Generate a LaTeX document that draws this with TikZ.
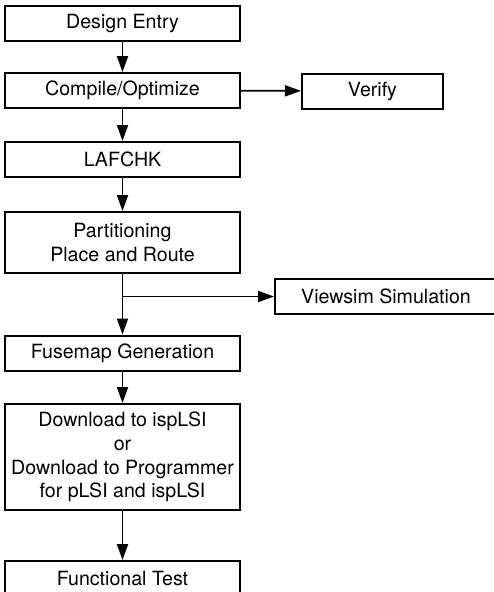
\documentclass[tikz,border=0pt]{standalone}
\usepackage{fontspec}
\setmainfont{TeX Gyre Heros}
\usetikzlibrary{arrows.meta}
\begin{document}
\begin{tikzpicture}[x=1pt,y=-1pt,
  box/.style={draw=black,line width=2pt,minimum width=235pt,minimum height=35pt,
    inner sep=0pt,align=center,font=\fontsize{19.6}{23.8}\selectfont},
  flow/.style={line width=1.8pt,-{Triangle[length=16pt,width=11pt]}}]
\useasboundingbox (0,0) rectangle (494,592);
\clip (0,0) rectangle (494,592);
\node[box] (design) at (122.5,23.5) {Design Entry};
\node[box] (compile) at (122.5,90.5) {Compile/Optimize};
\node[box,minimum width=141pt] (verify) at (372.5,91) {Verify};
\node[box] (lafchk) at (122.5,159.5) {LAFCHK};
\node[box,minimum height=61pt] (part) at (122.5,242.5) {Partitioning\\Place and Route};
\node[box,minimum width=222pt] (viewsim) at (386,296.5) {Viewsim Simulation};
\node[box] (fusemap) at (122.5,353) {Fusemap Generation};
\node[box,minimum height=106pt] (download) at (122.5,457) {Download to ispLSI\\or\\Download to Programmer\\for pLSI and ispLSI};
\node[box] (func) at (122.5,578.5) {Functional Test};
\coordinate (br) at (122.5,296.5);
\draw[flow] (design) -- (compile);
\draw[flow] (compile) -- (verify);
\draw[flow] (compile) -- (lafchk);
\draw[flow] (lafchk) -- (part);
\draw[flow] (part) -- (fusemap);
\draw[flow] (br) -- (viewsim);
\draw[flow] (fusemap) -- (download);
\draw[flow] (download) -- (func);
\end{tikzpicture}
\end{document}
